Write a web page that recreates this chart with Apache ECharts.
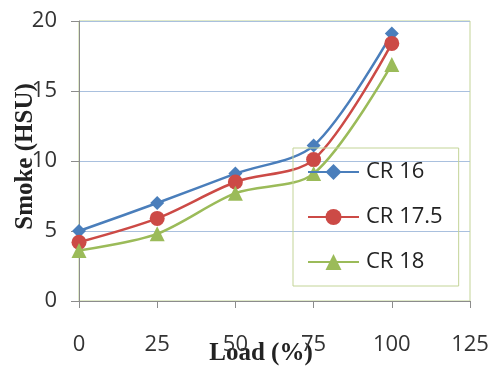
<!DOCTYPE html>
<html>
<head>
<meta charset="utf-8">
<script src="https://cdn.jsdelivr.net/npm/echarts@6/dist/echarts.min.js"></script>
<style>
html,body{margin:0;padding:0;background:#fff;}
#chart{width:493px;height:367px;}
</style>
</head>
<body>
<div id="chart"></div>
<script>
var loads = [0, 25, 50, 75, 100];
var cr16 = [5.0, 7.0, 9.1, 11.1, 19.1];
var cr175 = [4.2, 5.9, 8.5, 10.1, 18.4];
var cr18 = [3.6, 4.8, 7.7, 9.1, 16.9];
var seriesNames = ['CR 16', 'CR 17.5', 'CR 18'];
var xTicks = [0, 25, 50, 75, 100, 125];
var yTicks = [0, 5, 10, 15, 20];

function pairs(vals) { return loads.map(function (x, i) { return [x, vals[i]]; }); }

var chart = echarts.init(document.getElementById('chart'), null, {renderer: 'canvas'});
var tickFont = {fontFamily: 'Open Sans', fontSize: 22, color: '#333'};
chart.setOption({
  animation: false,
  backgroundColor: '#fff',
  grid: {left: 79, right: 23, top: 21, bottom: 66, containLabel: false, outerBoundsMode: 'none',
         show: true, borderColor: '#c3d497', borderWidth: 1, backgroundColor: 'transparent'},
  xAxis: {
    type: 'value', min: xTicks[0], max: xTicks[xTicks.length - 1], interval: 25,
    name: 'Load (%)', nameLocation: 'middle', nameGap: 40, nameMoveOverlap: false,
    nameTextStyle: {fontFamily: 'Liberation Serif', fontWeight: 'bold', fontSize: 25, color: '#222', padding: [0, 27, 0, 0]},
    axisLine: {show: true, lineStyle: {color: '#8c8c8c', width: 1}},
    axisTick: {show: true, length: 7, lineStyle: {color: '#8c8c8c'}},
    axisLabel: Object.assign({margin: 33}, tickFont),
    splitLine: {show: false}
  },
  yAxis: {
    type: 'value', min: yTicks[0], max: yTicks[yTicks.length - 1], interval: 5,
    name: 'Smoke (HSU)', nameLocation: 'middle', nameGap: 41, nameMoveOverlap: false,
    nameTextStyle: {fontFamily: 'Liberation Serif', fontWeight: 'bold', fontSize: 25, color: '#222', padding: [0, 0, 0, 9]},
    axisLine: {show: true, lineStyle: {color: '#8c8c8c', width: 1}},
    axisTick: {show: true, length: 8, lineStyle: {color: '#8c8c8c'}},
    axisLabel: Object.assign({margin: 22}, tickFont),
    splitLine: {show: true, lineStyle: {color: '#a9c0de', width: 1}}
  },
  legend: {
    orient: 'vertical', left: 293, top: 148,
    padding: [13, 16, 13, 14],
    itemWidth: 51, itemHeight: 20, itemGap: 23,
    borderColor: '#c3d497', borderWidth: 1, backgroundColor: 'transparent',
    textStyle: {fontFamily: 'Open Sans', fontSize: 22, color: '#222', padding: [0, 0, 0, 2]},
    data: seriesNames
  },
  series: [
    {name: seriesNames[0], type: 'line', smooth: 0.3, data: pairs(cr16), symbol: 'diamond', symbolSize: 14,
     itemStyle: {color: '#4a7ebb'}, lineStyle: {color: '#4a7ebb', width: 2.5}},
    {name: seriesNames[1], type: 'line', smooth: 0.3, data: pairs(cr175), symbol: 'circle', symbolSize: 15,
     itemStyle: {color: '#cc4a46'}, lineStyle: {color: '#cc4a46', width: 2.5}},
    {name: seriesNames[2], type: 'line', smooth: 0.3, data: pairs(cr18), symbol: 'triangle', symbolSize: 15,
     itemStyle: {color: '#9bbb59'}, lineStyle: {color: '#9bbb59', width: 2.5}}
  ]
});
</script>
</body>
</html>
